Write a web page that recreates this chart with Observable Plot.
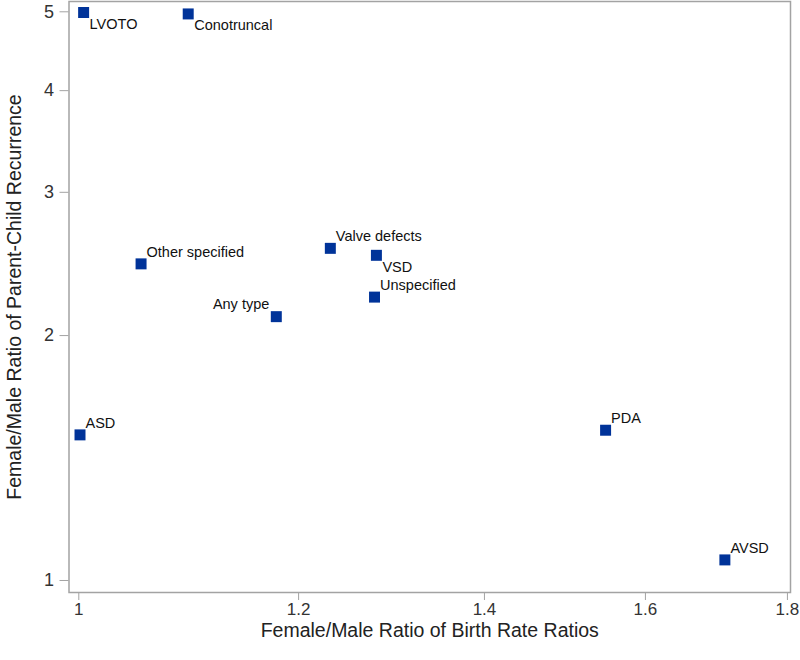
<!DOCTYPE html>
<html>
<head>
<meta charset="utf-8">
<script src="https://cdn.jsdelivr.net/npm/d3@7"></script>
<script src="https://cdn.jsdelivr.net/npm/@observablehq/plot@0.6"></script>
<style>
  html, body { margin: 0; padding: 0; background: #fff; }
  #chart { width: 800px; height: 660px; }
</style>
</head>
<body>
<div id="chart"></div>
<script>
// ---- data ----
const defectTypes = ["LVOTO", "Conotruncal", "Other specified", "Valve defects", "VSD", "Unspecified", "Any type", "ASD", "PDA", "AVSD"];
const birthRateRatioFM = [1.004, 1.095, 1.053, 1.232, 1.280, 1.278, 1.178, 1.001, 1.548, 1.709];
const recurrenceRatioFM = [4.99, 4.97, 2.45, 2.56, 2.51, 2.23, 2.11, 1.51, 1.53, 1.06];
const xTickValues = [1, 1.2, 1.4, 1.6, 1.8];
const yTickValues = [1, 2, 3, 4, 5];
const xTitle = "Female/Male Ratio of Birth Rate Ratios";
const yTitle = "Female/Male Ratio of Parent-Child Recurrence";

// label placement groups
const labelBelowRight = new Set(["LVOTO", "Conotruncal", "VSD"]);
const labelAboveLeft = new Set(["Any type"]);

const rows = defectTypes.map((name, i) => ({name, x: birthRateRatioFM[i], y: recurrenceRatioFM[i]}));
const aboveRight = rows.filter(d => !labelBelowRight.has(d.name) && !labelAboveLeft.has(d.name));
const belowRight = rows.filter(d => labelBelowRight.has(d.name));
const aboveLeft = rows.filter(d => labelAboveLeft.has(d.name));

const font = "'Liberation Sans', Arial, Helvetica, sans-serif";
const gray = "#a3a3a3";
const blue = "#003399";
const labelSize = 14.5;

const chart = Plot.plot({
  width: 800,
  height: 660,
  marginLeft: 68.5,
  marginRight: 10,
  marginTop: 1,
  marginBottom: 68,
  style: {fontFamily: font, background: "#fff", color: "#222"},
  x: {type: "log", domain: [0.9919, 1.8046]},
  y: {type: "log", domain: [0.9666, 5.148]},
  marks: [
    Plot.axisX({ticks: xTickValues, tickFormat: d => String(d), tickSize: 8, tickPadding: 2, fontSize: 17, stroke: gray, fill: "#333", label: null}),
    Plot.axisY({ticks: yTickValues, tickFormat: d => String(d), tickSize: 9, tickPadding: 6, fontSize: 18, stroke: gray, fill: "#333", label: null}),
    Plot.text([xTitle], {frameAnchor: "bottom", text: d => d, textAnchor: "middle", lineAnchor: "bottom", dy: 44, fontSize: 19.5, fill: "#222"}),
    Plot.text([yTitle], {frameAnchor: "left", text: d => d, textAnchor: "middle", rotate: -90, lineAnchor: "bottom", dx: -48.5, fontSize: 19.5, fill: "#222"}),
    Plot.dot(rows, {x: "x", y: "y", symbol: "square", r: 6.2, fill: blue}),
    Plot.text(aboveRight, {x: "x", y: "y", text: "name", textAnchor: "start", lineAnchor: "bottom", dx: 5.5, dy: -7, fontSize: labelSize, fill: "#111"}),
    Plot.text(belowRight, {x: "x", y: "y", text: "name", textAnchor: "start", lineAnchor: "top", dx: 6, dy: 6, fontSize: labelSize, fill: "#111"}),
    Plot.text(aboveLeft, {x: "x", y: "y", text: "name", textAnchor: "end", lineAnchor: "bottom", dx: -7, dy: -8, fontSize: labelSize, fill: "#111"}),
    Plot.frame({stroke: gray, strokeWidth: 1.5, fill: "none"})
  ]
});
document.getElementById("chart").appendChild(chart);
</script>
</body>
</html>
